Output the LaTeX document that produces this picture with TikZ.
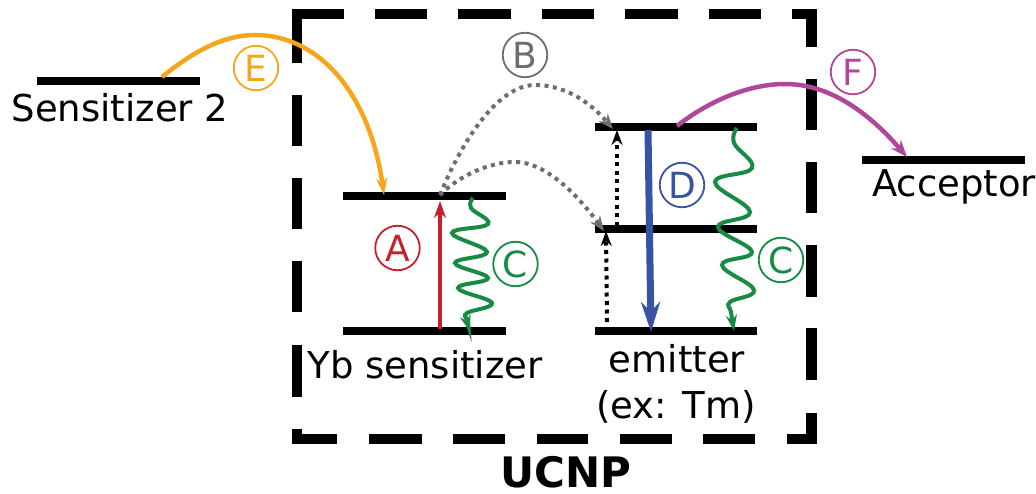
\documentclass[tikz,border=0pt]{standalone}
\usepackage{fontspec}
\setmainfont{DejaVu Sans}
\usetikzlibrary{arrows.meta}
\definecolor{cred}{HTML}{C4202E}
\definecolor{cgreen}{HTML}{178A44}
\definecolor{cblue}{HTML}{3953A4}
\definecolor{cgrey}{HTML}{6D6E70}
\definecolor{corange}{HTML}{F9A51B}
\definecolor{cpurple}{HTML}{B0479A}
\tikzset{
  level/.style={line width=7.5pt},
  boxdash/.style={line width=10.5pt,line cap=butt,miter limit=10},
  lab/.style={font=\fontsize{37}{37}\selectfont,inner sep=0pt,anchor=base},
  tag/.style={circle,draw=#1,text=#1,line width=1.8pt,minimum size=44.5pt,inner sep=0pt,font=\fontsize{36}{36}\selectfont},
  wav/.style={cgreen,line width=4pt,-{Stealth[length=16pt,width=11pt]}},
  hop/.style={cgrey,line width=4pt,dash pattern=on 4pt off 4.5pt,-{Stealth[length=15pt,width=12pt]}},
  up/.style={black,line width=4pt,dash pattern=on 4pt off 4.5pt,-{Stealth[length=15pt,width=11pt]}},
}
\begin{document}
\begin{tikzpicture}[x=1pt,y=-1pt]
\useasboundingbox (0,0) rectangle (1036,494);
% UCNP dashed box
\draw[boxdash] (344,14) -- (297,14) -- (297,63);
\foreach \a/\b in {375/427,458/511,542/594,625/678,709/761} \draw[boxdash] (\a,14) -- (\b,14);
\draw[boxdash] (792,14) -- (811.5,14) -- (811.5,47);
\foreach \a/\b in {79/130,162/213,245/297,328/380} \draw[boxdash] (811.5,\a) -- (811.5,\b);
\draw[boxdash] (811.5,413) -- (811.5,439) -- (787,439);
\foreach \a/\b in {369/422,453/505,537/588,620/672,703/755} \draw[boxdash] (\a,439) -- (\b,439);
\draw[boxdash] (337,439) -- (297,439) -- (297,429);
\foreach \a/\b in {95/146,178/229,261/312,345/397} \draw[boxdash] (297,\a) -- (297,\b);
% named level ends
\coordinate (s2l) at (37,81); \coordinate (s2r) at (200,81);
\coordinate (ybtl) at (343,196); \coordinate (ybtr) at (506,196);
\coordinate (ybbl) at (343,331); \coordinate (ybbr) at (506,331);
\coordinate (e3l) at (595,127); \coordinate (e3r) at (757,127);
\coordinate (e2l) at (595,229); \coordinate (e2r) at (757,229);
\coordinate (e1l) at (595,331); \coordinate (e1r) at (757,331);
\coordinate (acl) at (862,160); \coordinate (acr) at (1025,160);
\foreach \a/\b in {s2l/s2r,ybtl/ybtr,ybbl/ybbr,e3l/e3r,e2l/e2r,e1l/e1r,acl/acr}
  \draw[level] (\a) -- (\b);
% connector ends
\coordinate (Es) at (162,77); \coordinate (Ee) at (384,195);
\coordinate (Bs) at (440,195); \coordinate (Bu) at (613,129); \coordinate (Bl) at (604,231);
\coordinate (Fs) at (677,126); \coordinate (Fe) at (907,157);
\coordinate (Rs) at (440,329); \coordinate (Re) at (440,201);
\coordinate (Ds) at (648,130); \coordinate (De) at (651,332);
\coordinate (U1s) at (607,322); \coordinate (U1e) at (606,231);
\coordinate (U2s) at (617,226); \coordinate (U2e) at (617,130);
% curved transfers
\draw[corange,line width=4.5pt,-{Stealth[length=17pt,width=11pt]}] (Es) .. controls (195,50) and (225,35) .. (255,35) .. controls (320,35) and (370,95) .. (Ee);
\draw[cpurple,line width=4.5pt,-{Stealth[length=17pt,width=13pt]}] (Fs) .. controls (710,100) and (750,84) .. (785,84) .. controls (835,84) and (875,120) .. (Fe);
\draw[hop] (Bs) .. controls (458,150) and (495,85) .. (535,85) .. controls (570,85) and (595,108) .. (Bu);
\draw[hop] (Bs) .. controls (460,175) and (490,162) .. (515,162) .. controls (550,162) and (585,205) .. (Bl);
% vertical arrows
\draw[cred,line width=4pt,-{Stealth[length=17pt,width=12pt]}] (Rs) -- (Re);
\draw[cblue,line width=7pt,-{Stealth[length=30pt,width=19pt]}] (Ds) -- (De);
\draw[up] (U1s) -- (U1e);
\draw[up] (U2s) -- (U2e);
% wavy relaxation
\coordinate (W1s) at (473,198); \coordinate (W1e) at (470,331);
\coordinate (W2s) at (737,128); \coordinate (W2e) at (734,331);
\draw[wav] plot[smooth,tension=0.7] coordinates {(W1s) (471,208) (488,224) (452,233) (487,252) (455,263) (488,278) (458,288) (492,303) (467,313) (467,320) (W1e)};
\draw[wav] plot[smooth,tension=0.7] coordinates {(W2s) (734,143) (752,168) (715,182) (750,212) (718,227) (752,252) (722,265) (754,290) (730,302) (731,312) (W2e)};
% tags
\node[tag=cred] (tA) at (397.5,248) {A};
\node[tag=cgreen] (tC1) at (515.5,264) {C};
\node[tag=cblue] (tD) at (682,185) {D};
\node[tag=cgreen] (tC2) at (781,260) {C};
\node[tag=cgrey] (tB) at (525,55) {B};
\node[tag=corange] (tE) at (256,68) {E};
\node[tag=cpurple] (tF) at (853,72) {F};
% labels
\node[lab] (ls2) at (120,122) {Sensitizer 2};
\node[lab] (lyb) at (425,378) {Yb sensitizer};
\node[lab] (lem) at (677,372) {emitter};
\node[lab] (lex) at (676,418) {(ex: Tm)};
\node[lab] (lac) at (954,197) {Acceptor};
\node[lab,font=\fontsize{42}{42}\selectfont\bfseries] (lu) at (566,487) {UCNP};
\end{tikzpicture}
\end{document}
